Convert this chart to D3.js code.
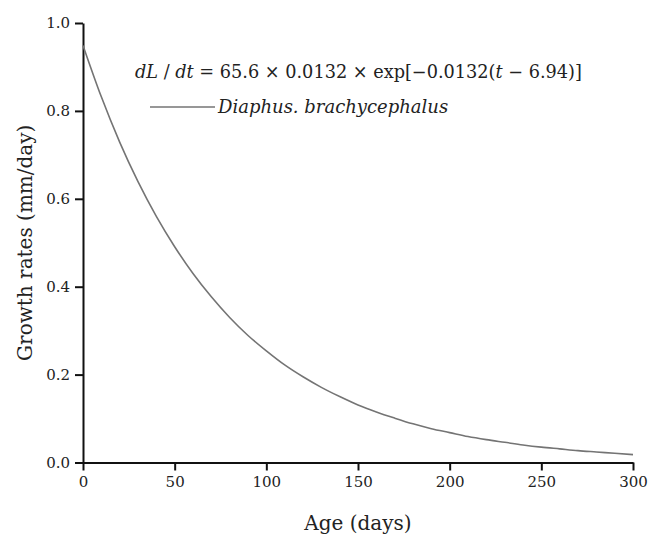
<!DOCTYPE html>
<html>
<head>
<meta charset="utf-8">
<script src="https://cdn.jsdelivr.net/npm/d3@7"></script>
<style>
  body { margin: 0; background: #fff; }
  svg text { font-family: "DejaVu Serif", "Liberation Serif", serif; fill: #222; }
</style>
</head>
<body>
<div id="chart"></div>
<script>
// ages (days) and growth rates (mm/day)
var ages = [0, 10, 20, 30, 40, 50, 60, 70, 80, 90, 100, 110, 120, 130, 140, 150,
            160, 170, 180, 190, 200, 210, 220, 230, 240, 250, 260, 270, 280, 290, 300];
var rates = [0.949, 0.832, 0.729, 0.639, 0.560, 0.491, 0.430, 0.377, 0.330, 0.289, 0.254,
             0.222, 0.195, 0.171, 0.150, 0.131, 0.115, 0.101, 0.088, 0.077, 0.068,
             0.059, 0.052, 0.046, 0.040, 0.035, 0.031, 0.027, 0.024, 0.021, 0.018];
var xTicks = [0, 50, 100, 150, 200, 250, 300];
var yTicks = [0.0, 0.2, 0.4, 0.6, 0.8, 1.0];
var seriesName = "Diaphus. brachycephalus";

var width = 649,
    height = 541,
    margin = {top: 23, right: 16, bottom: 78.5, left: 83};

var svg = d3.select("#chart").append("svg")
    .attr("width", width)
    .attr("height", height);

var x = d3.scaleLinear().domain([0, 300]).range([margin.left, width - margin.right]);
var y = d3.scaleLinear().domain([0, 1]).range([height - margin.bottom, margin.top]);

// axes
var xAxis = svg.append("g")
    .attr("transform", "translate(0," + y(0) + ")")
    .call(d3.axisBottom(x).tickValues(xTicks).tickSize(8).tickPadding(6).tickSizeOuter(0));
var yAxis = svg.append("g")
    .attr("transform", "translate(" + x(0) + ",0)")
    .call(d3.axisLeft(y).tickValues(yTicks).tickSize(8).tickPadding(5).tickSizeOuter(0)
      .tickFormat(d3.format(".1f")));

[xAxis, yAxis].forEach(function(a) {
  a.select(".domain").attr("stroke", "#111").attr("stroke-width", 2);
  a.selectAll(".tick line").attr("stroke", "#111").attr("stroke-width", 2);
  a.selectAll(".tick text").style("font-size", "15px").attr("fill", "#222");
});

// curve
var line = d3.line()
    .x(function(d, i) { return x(ages[i]); })
    .y(function(d) { return y(d); })
    .curve(d3.curveMonotoneX);

svg.append("path")
    .datum(rates)
    .attr("d", line)
    .attr("fill", "none")
    .attr("stroke", "#747474")
    .attr("stroke-width", 1.6);

// equation + legend
var eq = svg.append("text")
    .attr("x", 135)
    .attr("y", 78)
    .style("font-size", "17.7px");
eq.append("tspan").style("font-style", "italic").text("dL");
eq.append("tspan").text(" / ");
eq.append("tspan").style("font-style", "italic").text("dt");
eq.append("tspan").text(" = 65.6 \u00d7 0.0132 \u00d7 exp[\u22120.0132(");
eq.append("tspan").style("font-style", "italic").text("t");
eq.append("tspan").text(" \u2212 6.94)]");

svg.append("line")
    .attr("x1", 150).attr("x2", 215)
    .attr("y1", 107).attr("y2", 107)
    .attr("stroke", "#747474")
    .attr("stroke-width", 1.6);

svg.append("text")
    .attr("x", 218)
    .attr("y", 113)
    .style("font-size", "18px")
    .style("font-style", "italic")
    .text(seriesName);

// axis titles
svg.append("text")
    .attr("x", (x(0) + x(300)) / 2)
    .attr("y", 530)
    .attr("text-anchor", "middle")
    .style("font-size", "20px")
    .text("Age (days)");

svg.append("text")
    .attr("transform", "translate(32," + y(0.5) + ") rotate(-90)")
    .attr("text-anchor", "middle")
    .style("font-size", "20px")
    .text("Growth rates (mm/day)");
</script>
</body>
</html>
